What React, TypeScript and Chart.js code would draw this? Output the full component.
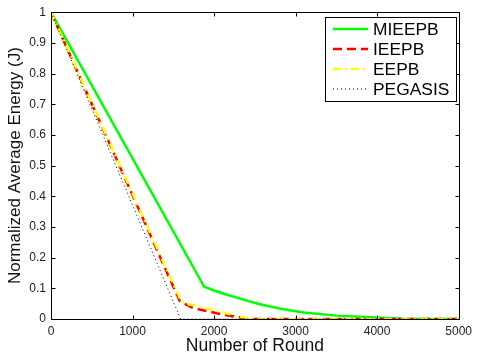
import React, { useEffect, useRef } from "react";
import { Chart, registerables } from "chart.js";

Chart.register(...registerables);

const mieepbRounds = [0, 1880, 2000, 2150, 2300, 2550, 2800, 3100, 3500, 4000, 4300, 5000];
const mieepbEnergy = [1, 0.105, 0.093, 0.08, 0.068, 0.049, 0.034, 0.021, 0.011, 0.005, 0.001, 0];

const ieepbRounds = [0, 1580, 1740, 1940, 2140, 2340, 2450, 5000];
const ieepbEnergy = [1, 0.058, 0.036, 0.024, 0.013, 0.004, 0, 0];

const eepbRounds = [0, 1595, 1640, 2040, 2300, 2500, 5000];
const eepbEnergy = [1, 0.058, 0.051, 0.026, 0.008, 0, 0];

const pegasisRounds = [0, 1590, 5000];
const pegasisEnergy = [1, 0, 0];

const seriesNames = ["MIEEPB", "IEEPB", "EEPB", "PEGASIS"];
const xTicks = [0, 1000, 2000, 3000, 4000, 5000];
const yTicks = [0, 0.1, 0.2, 0.3, 0.4, 0.5, 0.6, 0.7, 0.8, 0.9, 1];

const toPts = (xs: number[], ys: number[]) => xs.map((x, i) => ({ x, y: ys[i] }));

const FONT = "Liberation Sans, Arial, Helvetica, sans-serif";

const boxPlugin = {
  id: "matlabBox",
  afterDatasetsDraw(chart: any) {
    const { ctx, chartArea } = chart;
    const { left, right, top, bottom } = chartArea;
    const xs = chart.scales.x;
    const ys = chart.scales.y;
    ctx.save();
    ctx.strokeStyle = "#000";
    ctx.lineWidth = 1;
    ctx.setLineDash([]);
    ctx.beginPath();
    const L = Math.round(left) + 0.5, R = Math.round(right) + 0.5;
    const T = Math.round(top) + 0.5, B = Math.round(bottom) + 0.5;
    ctx.rect(L, T, R - L, B - T);
    const tl = 4;
    xTicks.forEach((v) => {
      const px = Math.round(xs.getPixelForValue(v)) + 0.5;
      ctx.moveTo(px, B);
      ctx.lineTo(px, B - tl);
      ctx.moveTo(px, T);
      ctx.lineTo(px, T + tl);
    });
    yTicks.forEach((v) => {
      const py = Math.round(ys.getPixelForValue(v)) + 0.5;
      ctx.moveTo(L, py);
      ctx.lineTo(L + tl, py);
      ctx.moveTo(R, py);
      ctx.lineTo(R - tl, py);
    });
    ctx.stroke();

    // legend
    const bx = 325.5, by = 17.5, bw = 131, bh = 84;
    ctx.fillStyle = "#fff";
    ctx.fillRect(bx, by, bw, bh);
    ctx.strokeRect(bx, by, bw, bh);
    const rows = [29, 49, 69, 89];
    chart.data.datasets.forEach((ds: any, i: number) => {
      const y = rows[i];
      ctx.save();
      ctx.strokeStyle = ds.borderColor;
      ctx.lineWidth = ds.borderWidth;
      ctx.setLineDash(ds.borderDash || []);
      ctx.beginPath();
      ctx.moveTo(333, y);
      ctx.lineTo(368, y);
      ctx.stroke();
      ctx.restore();
      ctx.fillStyle = "#000";
      ctx.font = `17.4px ${FONT}`;
      ctx.textBaseline = "middle";
      ctx.textAlign = "left";
      ctx.fillText(ds.label, 373, y + 1);
    });
    ctx.restore();
  },
};

export default function App() {
  const ref = useRef<HTMLCanvasElement | null>(null);
  useEffect(() => {
    document.body.style.margin = "0";
    const canvas = ref.current;
    if (!canvas) return;
    const chart = new Chart(canvas, {
      type: "line",
      data: {
        datasets: [
          {
            label: seriesNames[0],
            data: toPts(mieepbRounds, mieepbEnergy),
            borderColor: "#00ff00",
            borderWidth: 2.5,
            pointRadius: 0,
            order: 3,
          },
          {
            label: seriesNames[1],
            data: toPts(ieepbRounds, ieepbEnergy),
            borderColor: "#ff0000",
            borderWidth: 2.5,
            borderDash: [9, 5],
            pointRadius: 0,
            order: 2,
          },
          {
            label: seriesNames[2],
            data: toPts(eepbRounds, eepbEnergy),
            borderColor: "#ffff00",
            borderWidth: 2.5,
            borderDash: [8, 4, 2, 4],
            pointRadius: 0,
            order: 1,
          },
          {
            label: seriesNames[3],
            data: toPts(pegasisRounds, pegasisEnergy),
            borderColor: "#000000",
            borderWidth: 1,
            borderDash: [1, 3],
            pointRadius: 0,
            order: 0,
          },
        ],
      },
      options: {
        animation: false,
        responsive: false,
        maintainAspectRatio: false,
        devicePixelRatio: 1,
        layout: { padding: { top: 12, right: 16, left: 0, bottom: 0 } },
        plugins: { legend: { display: false }, tooltip: { enabled: false } },
        scales: {
          x: {
            type: "linear",
            min: 0,
            max: 5000,
            afterBuildTicks: (s: any) => {
              s.ticks = xTicks.map((v) => ({ value: v }));
            },
            ticks: {
              font: { family: FONT, size: 12 },
              color: "#222",
              padding: 5,
              maxRotation: 0,
              callback: (v: any) => String(v),
            },
            grid: { display: false, drawTicks: false },
            border: { display: false },
            title: {
              display: true,
              text: "Number of Round",
              font: { family: FONT, size: 17.5, lineHeight: 1 },
              color: "#111",
              padding: { top: 0, bottom: -2 },
            },
            afterFit: (s: any) => {
              s.height = 34;
            },
          },
          y: {
            type: "linear",
            min: 0,
            max: 1,
            afterBuildTicks: (s: any) => {
              s.ticks = yTicks.map((v) => ({ value: v }));
            },
            ticks: {
              font: { family: FONT, size: 12 },
              color: "#222",
              padding: 5,
              callback: (v: any) => String(Number(Number(v).toFixed(1))),
            },
            grid: { display: false, drawTicks: false },
            border: { display: false },
            title: {
              display: true,
              text: "Normalized Average Energy (J)",
              font: { family: FONT, size: 17, lineHeight: 1 },
              color: "#111",
              padding: { top: 7, bottom: 0 },
            },
            afterFit: (s: any) => {
              s.width = 51;
            },
          },
        },
      },
      plugins: [boxPlugin],
    });
    return () => chart.destroy();
  }, []);
  return (
    <div style={{ position: "absolute", left: 0, top: 0, width: 477, height: 353, background: "#fff" }}>
      <canvas ref={ref} width={477} height={353} style={{ width: 477, height: 353, display: "block" }} />
    </div>
  );
}
